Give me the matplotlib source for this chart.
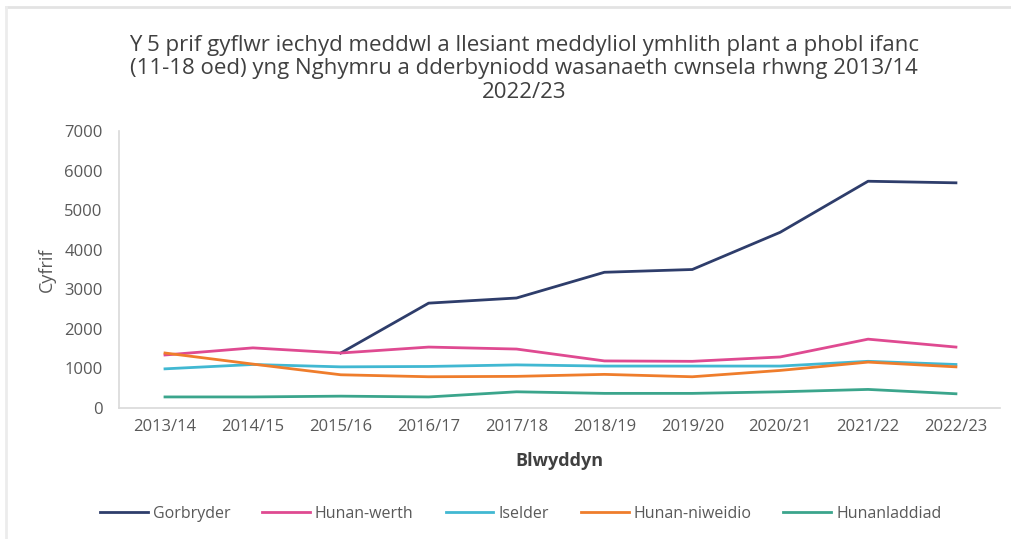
import matplotlib.pyplot as plt
import matplotlib.lines as mlines
import numpy as np

plt.rcParams['font.family'] = ['Open Sans', 'DejaVu Sans']

blynyddoedd = ["2013/14", "2014/15", "2015/16", "2016/17", "2017/18",
               "2018/19", "2019/20", "2020/21", "2021/22", "2022/23"]

gorbryder = [np.nan, np.nan, 1390, 2650, 2780, 3430, 3500, 4440, 5730, 5690]
hunan_werth = [1340, 1520, 1390, 1540, 1490, 1190, 1180, 1290, 1740, 1540]
iselder = [990, 1100, 1040, 1050, 1090, 1060, 1060, 1060, 1180, 1100]
hunan_niweidio = [1390, 1110, 840, 790, 800, 850, 790, 950, 1160, 1040]
hunanladdiad = [280, 280, 300, 280, 410, 370, 370, 410, 470, 360]

cyfresi = [
    ("Gorbryder", gorbryder, "#2e3d6b"),
    ("Hunan-werth", hunan_werth, "#df4a91"),
    ("Iselder", iselder, "#41b8d2"),
    ("Hunan-niweidio", hunan_niweidio, "#ef7d2c"),
    ("Hunanladdiad", hunanladdiad, "#3ba58c"),
]

fig = plt.figure(figsize=(10.11, 5.39), dpi=100)
ax = fig.add_axes([0.118, 0.243, 0.871, 0.514])

x = np.arange(len(blynyddoedd))
for enw, gwerthoedd, lliw in cyfresi:
    ax.plot(x, gwerthoedd, color=lliw, linewidth=2, label=enw)

ax.set_xlim(-0.52, 9.5)
ax.set_ylim(0, 7000)
ax.set_yticks(range(0, 7001, 1000))
ax.set_xticks(x)
ax.set_xticklabels(blynyddoedd)
ax.tick_params(length=0, labelsize=12, colors="#595959")
ax.tick_params(axis="y", pad=12)
ax.tick_params(axis="x", pad=8)
for side in ["top", "right"]:
    ax.spines[side].set_visible(False)
for side in ["left", "bottom"]:
    ax.spines[side].set_color("#d9d9d9")
    ax.spines[side].set_linewidth(1.2)

ax.set_ylabel("Cyfrif", fontsize=13, color="#595959", labelpad=6)
ax.set_xlabel("Blwyddyn", fontsize=13, color="#404040", fontweight="bold", labelpad=12)

fig.text(0.518, 0.935,
         "Y 5 prif gyflwr iechyd meddwl a llesiant meddyliol ymhlith plant a phobl ifanc\n"
         "(11-18 oed) yng Nghymru a dderbyniodd wasanaeth cwnsela rhwng 2013/14\n2022/23",
         ha="center", va="top", fontsize=16, color="#404040", linespacing=1.15)

fig.legend(loc="center", bbox_to_anchor=(0.515, 0.047), ncol=5, frameon=False,
           fontsize=11.5, handlelength=3, handletextpad=0.3, columnspacing=2.0,
           labelcolor="#595959")

# ffrâm lwyd ysgafn
fig.add_artist(mlines.Line2D([0.006, 1], [0.987, 0.987], color="#e3e3e3", lw=2, transform=fig.transFigure))
fig.add_artist(mlines.Line2D([0.006, 0.006], [0, 0.987], color="#ececec", lw=2, transform=fig.transFigure))

fig.savefig("out.png", dpi=100)
